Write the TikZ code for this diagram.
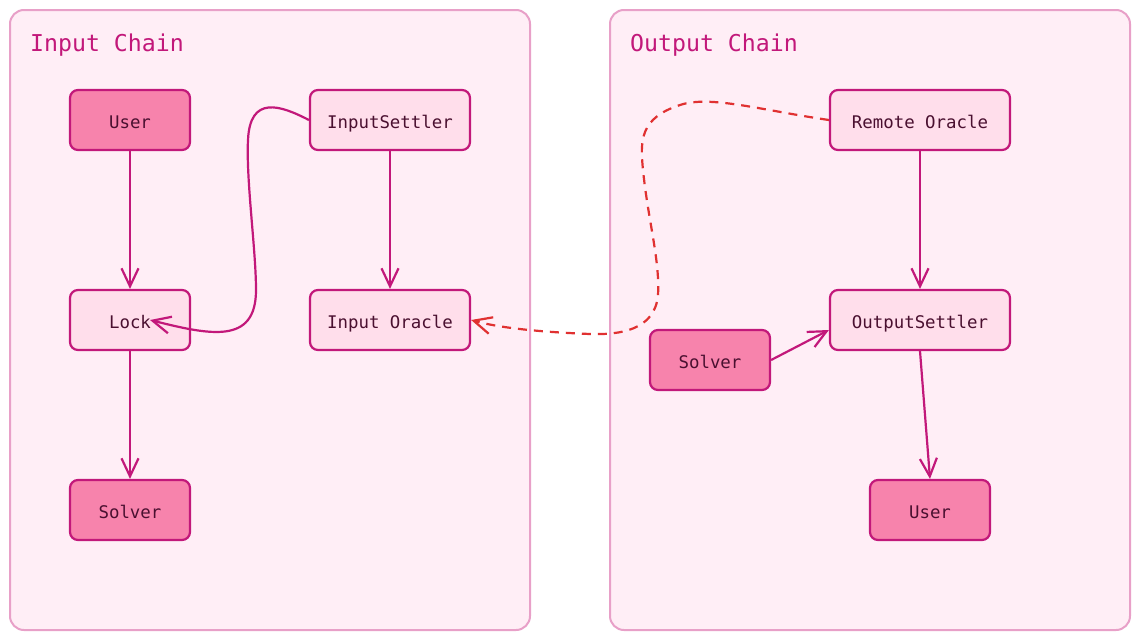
\documentclass[tikz,border=0pt]{standalone}
\usepackage{fontspec}
\setmonofont{DejaVu Sans Mono}
\usetikzlibrary{arrows.meta}
\definecolor{panelfill}{HTML}{FFEEF6}
\definecolor{panelline}{HTML}{E8A0C8}
\definecolor{mag}{HTML}{C2187A}
\definecolor{darkfill}{HTML}{F783AC}
\definecolor{lightfill}{HTML}{FFDEEB}
\definecolor{txt}{HTML}{4A1030}
\definecolor{redline}{HTML}{E03131}
\tikzset{
  x=1pt,y=-1pt,
  panel/.style={draw=panelline,fill=panelfill,line width=2pt,rounded corners=14pt},
  title/.style={anchor=base west,text=mag,font=\ttfamily\fontsize{23.2}{26}\selectfont,inner sep=0pt},
  box/.style={draw=mag,line width=2.2pt,rounded corners=8pt,minimum height=60pt,
    font=\ttfamily\fontsize{17.4}{20}\selectfont,text=txt,inner sep=0pt,
    text height=16.5pt,text depth=0pt},
  actor/.style={box,fill=darkfill,minimum width=120pt},
  comp/.style={box,fill=lightfill},
  tip/.style={-{Straight Barb[length=18pt,width=17pt,line width=2.2pt]}},
  conn/.style={draw=mag,line width=2.2pt,tip},
  dconn/.style={draw=redline,line width=2.2pt,dash pattern=on 9pt off 7pt,tip}
}
\begin{document}
\begin{tikzpicture}
\useasboundingbox (0,0) rectangle (1140,640);
\fill[white] (0,0) rectangle (1140,640);
\draw[panel] (10,10) rectangle (530,630);
\draw[panel] (610,10) rectangle (1130,630);
\node[title] (tin) at (30,51) {Input Chain};
\node[title] (tout) at (630,51) {Output Chain};

\node[actor] (user1) at (130,120) {User};
\node[comp,minimum width=160pt] (iset) at (390,120) {InputSettler};
\node[comp,minimum width=120pt] (lock) at (130,320) {Lock};
\node[comp,minimum width=160pt] (iorc) at (390,320) {Input Oracle};
\node[actor] (solver1) at (130,510) {Solver};

\node[comp,minimum width=180pt] (rorc) at (920,120) {Remote Oracle};
\node[comp,minimum width=180pt] (oset) at (920,320) {OutputSettler};
\node[actor] (solver2) at (710,360) {Solver};
\node[actor] (user2) at (930,510) {User};

\coordinate (lockin) at (150,320);
\draw[conn] (user1.south) -- (user1.south |- lock.north);
\draw[conn] (iset.south) -- (iset.south |- iorc.north);
\draw[conn] (iset.west) .. controls (280,105) and (250,95) .. (248,140)
  .. controls (246,180) and (256,250) .. (256,290)
  .. controls (256,345) and (210,335) .. (lockin);
\draw[conn] (lock.south) -- (lock.south |- solver1.north);
\draw[conn] (rorc.south) -- (rorc.south |- oset.north);
\draw[conn] (oset.south) -- (user2.north);
\draw[conn] (solver2.east) -- (oset.south west |- 0,330);
\draw[dconn] (rorc.west) .. controls (760,110) and (710,95) .. (680,105)
  .. controls (640,118) and (640,140) .. (643,170)
  .. controls (648,220) and (660,260) .. (658,295)
  .. controls (655,330) and (620,335) .. (590,334)
  .. controls (540,332) and (500,328) .. (iorc.east);
\end{tikzpicture}
\end{document}
